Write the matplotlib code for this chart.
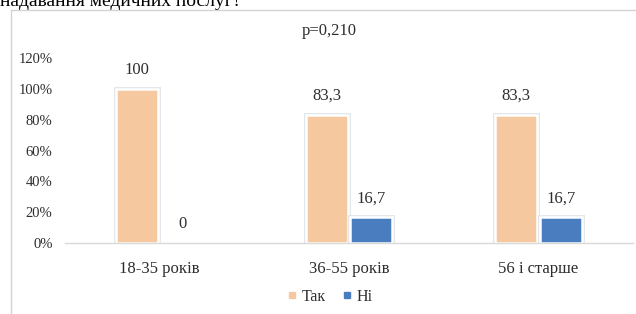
import numpy as np
import matplotlib
matplotlib.use("Agg")
import matplotlib.pyplot as plt
import matplotlib.patheffects as pe
from matplotlib.lines import Line2D
from matplotlib.patches import Rectangle

# дані
categories = ['18-35 років', '36-55 років', '56 і старше']
yes_vals = [100, 83.3, 83.3]
no_vals = [0, 16.7, 16.7]
yes_labels = ['100', '83,3', '83,3']
no_labels = ['0', '16,7', '16,7']
series_names = ['Так', 'Ні']
y_ticks = [0, 20, 40, 60, 80, 100, 120]
title = 'p=0,210'
caption = 'надавання медичних послуг?'

FAM = ['Liberation Serif', 'DejaVu Serif']
plt.rcParams['font.family'] = FAM
TXT = '#2e2e2e'
C_YES = '#F6C8A0'
C_NO = '#4A7DBF'

W, H = 636, 314
fig = plt.figure(figsize=(W / 100, H / 100), dpi=100)

# рамка діаграми (обрізана справа і знизу)
fig.patches.append(Rectangle((10.5 / W, -0.1), 1.2, 1 - 9.5 / H + 0.1,
                             transform=fig.transFigure, fill=False,
                             edgecolor='#d4d4d4', lw=1))
# рядок тексту документа над діаграмою, обрізаний зверху як на оригіналі
fig.text(0.0, 1 - 6.5 / H, caption, fontsize=14, color='black', va='baseline')

ax = fig.add_axes([65 / W, 1 - 243 / H, 568 / W, 185 / H])

x = np.arange(len(categories))
bw = 0.222
off = 0.118
halo = [pe.Stroke(linewidth=3.5, foreground='#e1e5ea'), pe.Normal()]
b1 = ax.bar(x - off, yes_vals, bw, color=C_YES, edgecolor='white', lw=1.8)
b2 = ax.bar(x + off, no_vals, bw, color=C_NO, edgecolor='white', lw=1.8)
for b in list(b1) + list(b2):
    if b.get_height() > 0:
        b.set_path_effects(halo)

for xi, v, lab in zip(x - off, yes_vals, yes_labels):
    ax.annotate(lab, (xi, v), xytext=(0, 8), textcoords='offset points',
                ha='center', va='bottom', fontsize=12, color=TXT)
for xi, v, lab in zip(x + off, no_vals, no_labels):
    ax.annotate(lab, (xi, v), xytext=(0, 8), textcoords='offset points',
                ha='center', va='bottom', fontsize=12, color=TXT)

ax.set_xlim(-0.5, len(categories) - 0.5)
ax.set_ylim(0, 120)
ax.set_yticks(y_ticks)
ax.set_yticklabels([f'{t}%' for t in y_ticks])
ax.set_xticks(x)
ax.set_xticklabels(categories)
ax.tick_params(axis='y', length=0, pad=9, labelsize=10.5, labelcolor=TXT)
ax.tick_params(axis='x', length=0, pad=13, labelsize=12, labelcolor=TXT)
for s in ['top', 'right', 'left']:
    ax.spines[s].set_visible(False)
ax.spines['bottom'].set_color('#d9d9d9')
ax.spines['bottom'].set_linewidth(1)
ax.set_facecolor('none')

fig.text(329 / W, 1 - 31 / H, title, ha='center', va='center',
         fontsize=12, color=TXT)

handles = [Line2D([], [], marker='s', ls='', color=C_YES, markersize=4),
           Line2D([], [], marker='s', ls='', color=C_NO, markersize=4)]
fig.legend(handles, series_names, loc='center', bbox_to_anchor=(330 / W, 1 - 297 / H),
           ncol=2, frameon=False, prop={'family': FAM, 'size': 11.5},
           handlelength=0.6, handletextpad=0.3, columnspacing=1.0,
           labelcolor=TXT)

fig.savefig('out.png', dpi=100)
